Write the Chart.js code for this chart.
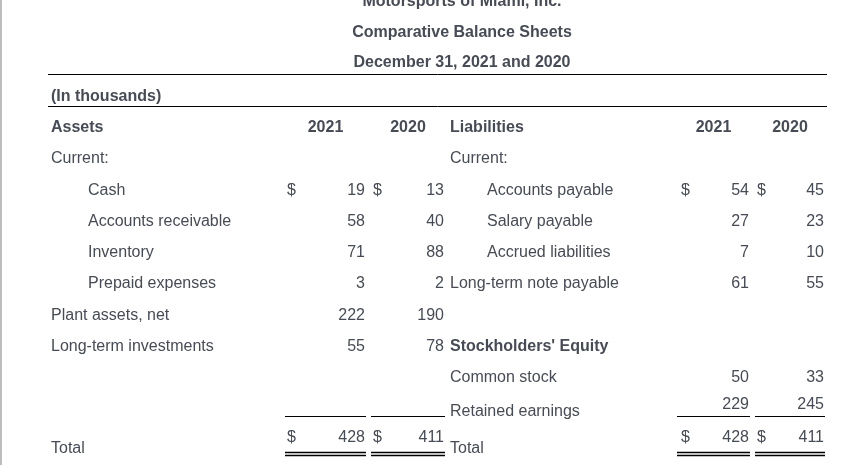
<!DOCTYPE html>
<html>
<head>
<meta charset="utf-8">
<script src="https://cdn.jsdelivr.net/npm/chart.js@4/dist/chart.umd.min.js"></script>
<style>
  html, body { margin: 0; padding: 0; background: #ffffff; }
  #wrap { width: 858px; height: 465px; position: relative; }
</style>
</head>
<body>
<div id="wrap"><canvas id="c" width="858" height="465"></canvas></div>
<script>
// ---------------- DATA ----------------
const titleLines = ['Motorsports of Miami, Inc.', 'Comparative Balance Sheets', 'December 31, 2021 and 2020'];
const unitNote = '(In thousands)';
const years = ['2021', '2020'];
const sectionHeads = ['Assets', 'Liabilities', "Stockholders' Equity"];
const subHead = 'Current:';
const totalLabel = 'Total';

const assetLabels = ['Cash', 'Accounts receivable', 'Inventory', 'Prepaid expenses', 'Plant assets, net', 'Long-term investments'];
const assets2021 = [19, 58, 71, 3, 222, 55];
const assets2020 = [13, 40, 88, 2, 190, 78];

const liabilityLabels = ['Accounts payable', 'Salary payable', 'Accrued liabilities', 'Long-term note payable'];
const liabilities2021 = [54, 27, 7, 61];
const liabilities2020 = [45, 23, 10, 55];

const equityLabels = ['Common stock', 'Retained earnings'];
const equity2021 = [50, 229];
const equity2020 = [33, 245];

const totalAssets = [428, 411];          // 2021, 2020
const totalLiabEquity = [428, 411];      // 2021, 2020

// ---------------- LAYOUT (positions / styles) ----------------
const TEXT = '#474b55';
const FONT = '"Liberation Sans", Arial, Helvetica, sans-serif';
const norm = '16px ' + FONT;
const bold = 'bold 16px ' + FONT;

// x anchors (pixel units of the x scale)
const X = {
  titleC: 462, left: 51, indentL: 88, midLeft: 450, indentR: 487,
  aDol1: 287, aVal1: 365, aDol2: 373, aVal2: 444,
  lDol1: 681, lVal1: 749, lDol2: 757, lVal2: 824,
  aHead1: 325.5, aHead2: 408, lHead1: 713.5, lHead2: 790,
  ruleL: 48, ruleR: 827
};
// column spans used for underline rules
const spans = [[285, 366], [371, 445], [677, 750], [755, 825]];
// row positions (row units of the y scale)
const R = {
  titles: [-0.04, 0.944, 1.904], note: 3, header: 4, current: 5, firstItem: 6,
  common: 12, retainedVal: 12.86, retainedLbl: 13.08,
  totalVal: 13.92, totalLbl: 14.28,
  rule1: 2.336, rule2: 3.36, single: 13.28, dbl1: 14.432, dbl2: 14.528
};

// ---------------- DATASETS ----------------
function textSet(labels, xs, ys, align, font) {
  return {
    type: 'scatter',
    data: labels.map((_, i) => ({ x: Array.isArray(xs) ? xs[i] : xs, y: Array.isArray(ys) ? ys[i] : ys })),
    cellText: labels.map(String), textAlign: align, textFont: font,
    pointRadius: 0, pointHoverRadius: 0, showLine: false
  };
}
function ruleSet(x0, x1, y, color, width) {
  return {
    type: 'scatter',
    data: [{ x: x0, y: y }, { x: x1, y: y }],
    showLine: true, borderColor: color, borderWidth: width,
    pointRadius: 0, pointHoverRadius: 0, fill: false
  };
}

const itemRows = n => Array.from({ length: n }, (_, i) => R.firstItem + i);

const datasets = [];
// titles
datasets.push(textSet(titleLines, X.titleC, R.titles, 'center', bold));
// unit note
datasets.push(textSet([unitNote], X.left, R.note, 'left', bold));
// section heads
datasets.push(textSet(sectionHeads, [X.left, X.midLeft, X.midLeft], [R.header, R.header, R.firstItem + 5], 'left', bold));
// year headers
datasets.push(textSet([years[0], years[1], years[0], years[1]], [X.aHead1, X.aHead2, X.lHead1, X.lHead2], R.header, 'center', bold));
// "Current:"
datasets.push(textSet([subHead, subHead], [X.left, X.midLeft], R.current, 'left', norm));
// asset labels
datasets.push(textSet(assetLabels, assetLabels.map((_, i) => i < 4 ? X.indentL : X.left), itemRows(assetLabels.length), 'left', norm));
// asset values
datasets.push(textSet(assets2021, X.aVal1, itemRows(assets2021.length), 'right', norm));
datasets.push(textSet(assets2020, X.aVal2, itemRows(assets2020.length), 'right', norm));
// liability labels
datasets.push(textSet(liabilityLabels, liabilityLabels.map((_, i) => i < 3 ? X.indentR : X.midLeft), itemRows(liabilityLabels.length), 'left', norm));
// liability values
datasets.push(textSet(liabilities2021, X.lVal1, itemRows(liabilities2021.length), 'right', norm));
datasets.push(textSet(liabilities2020, X.lVal2, itemRows(liabilities2020.length), 'right', norm));
// equity
datasets.push(textSet(equityLabels, X.midLeft, [R.common, R.retainedLbl], 'left', norm));
datasets.push(textSet(equity2021, X.lVal1, [R.common, R.retainedVal], 'right', norm));
datasets.push(textSet(equity2020, X.lVal2, [R.common, R.retainedVal], 'right', norm));
// dollar signs
datasets.push(textSet(['$', '$', '$', '$', '$', '$', '$', '$'],
  [X.aDol1, X.aDol2, X.lDol1, X.lDol2, X.aDol1, X.aDol2, X.lDol1, X.lDol2],
  [R.firstItem, R.firstItem, R.firstItem, R.firstItem, R.totalVal, R.totalVal, R.totalVal, R.totalVal], 'left', norm));
// totals
datasets.push(textSet([totalLabel, totalLabel], [X.left, X.midLeft], R.totalLbl, 'left', norm));
datasets.push(textSet([totalAssets[0], totalAssets[1], totalLiabEquity[0], totalLiabEquity[1]],
  [X.aVal1, X.aVal2, X.lVal1, X.lVal2], R.totalVal, 'right', norm));

// rules
datasets.push(ruleSet(X.ruleL, X.ruleR, R.rule1, '#000', 1));
datasets.push(ruleSet(X.ruleL, X.ruleR, R.rule2, '#000', 1));
spans.forEach(s => {
  datasets.push(ruleSet(s[0], s[1], R.single, '#000', 1));
  datasets.push(ruleSet(s[0], s[1], R.dbl1, '#000', 1.5));
  datasets.push(ruleSet(s[0], s[1], R.dbl2, '#000', 1.5));
});
// left page border
datasets.push(ruleSet(1, 1, -1, '#bdbdbd', 2));
datasets[datasets.length - 1].data = [{ x: 1, y: -0.1 }, { x: 1, y: 15 }];

// ---------------- TEXT PLUGIN ----------------
const cellTextPlugin = {
  id: 'cellText',
  afterDatasetsDraw(chart) {
    const ctx = chart.ctx;
    chart.data.datasets.forEach((ds, i) => {
      if (!ds.cellText) return;
      const meta = chart.getDatasetMeta(i);
      ctx.save();
      ctx.fillStyle = TEXT;
      ctx.font = ds.textFont;
      ctx.textAlign = ds.textAlign;
      ctx.textBaseline = 'alphabetic';
      meta.data.forEach((el, j) => {
        ctx.fillText(ds.cellText[j], el.x, el.y + 5.7);
      });
      ctx.restore();
    });
  }
};

new Chart(document.getElementById('c'), {
  type: 'scatter',
  data: { datasets },
  options: {
    responsive: false,
    animation: false,
    events: [],
    layout: { padding: 0 },
    plugins: { legend: { display: false }, tooltip: { enabled: false }, title: { display: false } },
    scales: {
      x: { type: 'linear', min: 0, max: 858, display: false },
      y: { type: 'linear', min: -0.048, max: 14.832, reverse: true, display: false }
    }
  },
  plugins: [cellTextPlugin]
});
</script>
</body>
</html>
